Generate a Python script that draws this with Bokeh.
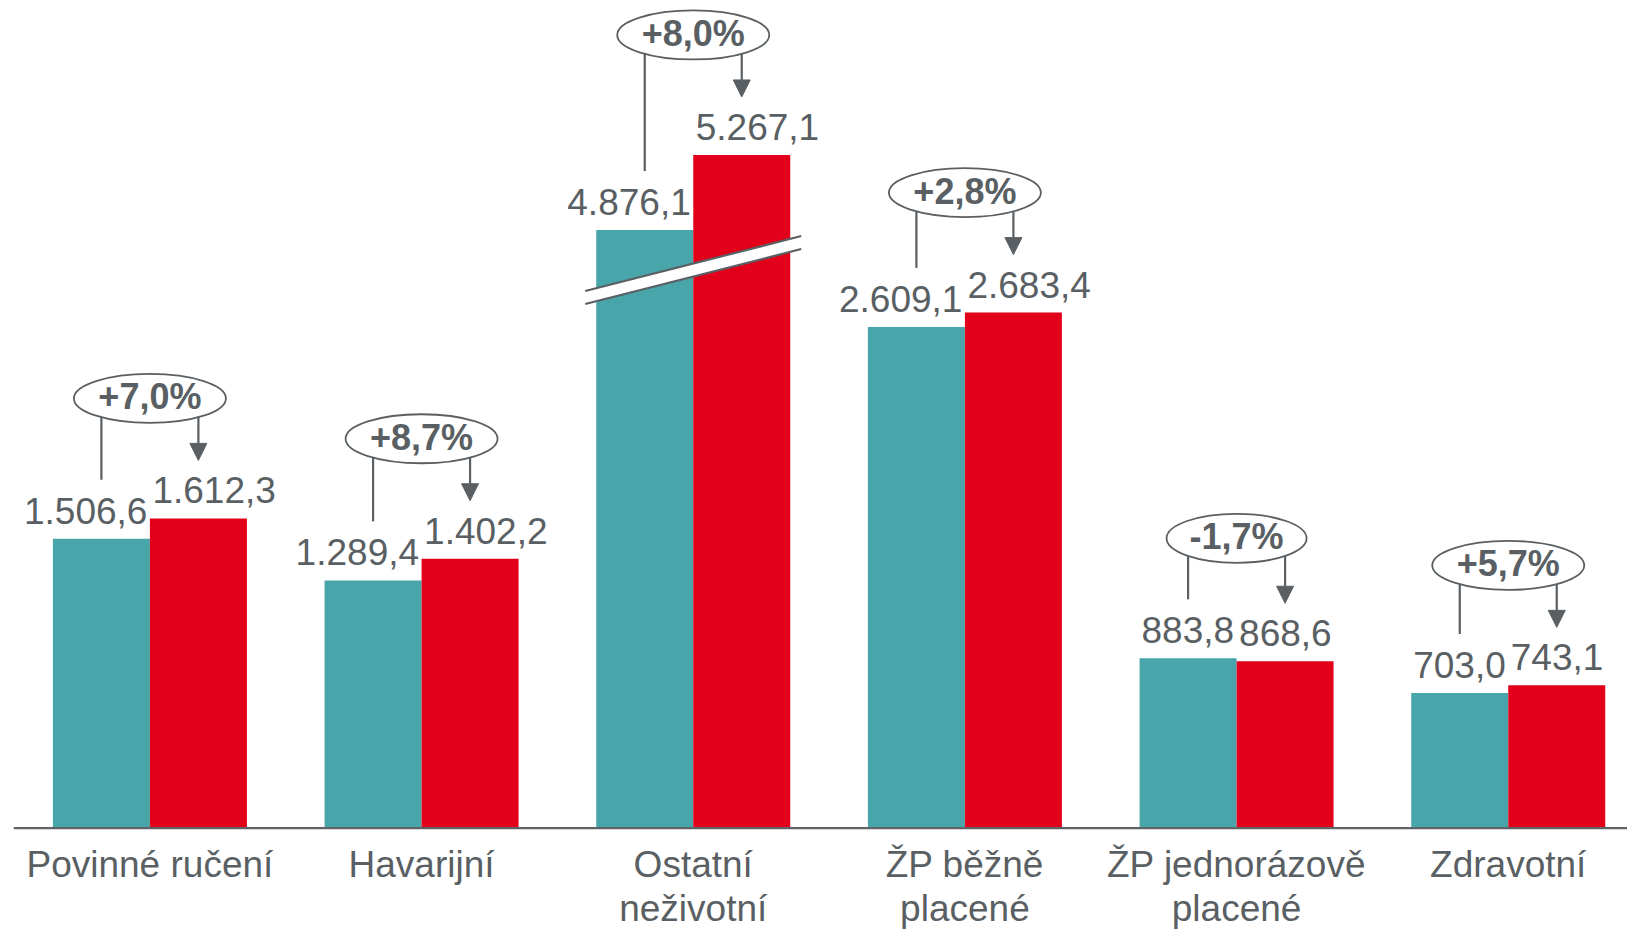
import numpy as np
from bokeh.plotting import figure
from bokeh.models import Range1d, Span
from bokeh.embed import file_html
from bokeh.resources import INLINE
from bokeh.core.properties import value

# ---------------- data ----------------
categories = ["Povinné ručení", "Havarijní", "Ostatní\nneživotní",
              "ŽP běžně\nplacené", "ŽP jednorázově\nplacené", "Zdravotní"]
prev_year = [1506.6, 1289.4, 4876.1, 2609.1, 883.8, 703.0]
curr_year = [1612.3, 1402.2, 5267.1, 2683.4, 868.6, 743.1]
change_labels = ["+7,0%", "+8,7%", "+8,0%", "+2,8%", "-1,7%", "+5,7%"]
broken = [False, False, True, False, False, False]   # axis break on this group
BREAK_CUT = 1763      # amount removed by the axis break
BREAK_AT = 2905       # display level where the break mark sits

# ---------------- style / layout ----------------
TEAL = "#48a6aa"
RED = "#e2001a"
GREY = "#595f63"
AXIS = "#5f6368"
FONT = "Liberation Sans"

W, H = 1627, 930
BORDER_L = 13
PX_X = 271.67          # px per category
PX_Y = 0.1921          # px per unit
FIRST_CENTER = 149.4 - BORDER_L
BASE_FROM_TOP = 827.6
TXT_FIX = 13           # renderer's baseline shift for 37px text

x0 = -FIRST_CENTER / PX_X
x1 = x0 + (W - BORDER_L) / PX_X
y1 = BASE_FROM_TOP / PX_Y
y0 = y1 - H / PX_Y


def fmt(v):
    s = f"{v:,.1f}"
    return s.replace(",", "#").replace(".", ",").replace("#", ".")


n = len(categories)
xs = np.arange(n, dtype=float)
bw = 97 / PX_X
disp_prev = [v - BREAK_CUT if b else v for v, b in zip(prev_year, broken)]
disp_curr = [v - BREAK_CUT if b else v for v, b in zip(curr_year, broken)]

p = figure(width=W, height=H, x_range=Range1d(x0, x1), y_range=Range1d(y0, y1),
           output_backend="svg", toolbar_location=None,
           x_axis_location=None, y_axis_location=None,
           min_border_left=BORDER_L, min_border_right=0,
           min_border_top=0, min_border_bottom=0)
p.outline_line_color = None
p.xgrid.visible = False
p.ygrid.visible = False
p.background_fill_color = "white"
p.border_fill_color = "white"

# bars
p.vbar(x=xs - bw / 2, top=disp_prev, bottom=0, width=bw, fill_color=TEAL, line_color=None)
p.vbar(x=xs + bw / 2, top=disp_curr, bottom=0, width=bw, fill_color=RED, line_color=None)

# baseline
p.add_layout(Span(location=0, dimension="width", line_color=AXIS, line_width=2.2))

# axis-break mark
for i, b in enumerate(broken):
    if not b:
        continue
    dx = 108 / PX_X
    ul = BREAK_AT - 21 / PX_Y
    ur = BREAK_AT + 34 / PX_Y
    ll = BREAK_AT - 34 / PX_Y
    lr = BREAK_AT + 21 / PX_Y
    p.patch([i - dx, i + dx, i + dx, i - dx], [ul, ur, lr, ll],
            fill_color="white", line_color=None)
    p.segment(x0=[i - dx, i - dx], y0=[ul, ll], x1=[i + dx, i + dx], y1=[ur, lr],
              line_color=GREY, line_width=2.2)

# value labels
gap = (15 + TXT_FIX) / PX_Y
p.text(x=xs - 2.5 / PX_X, y=[t + gap for t in disp_prev],
       text=[fmt(v) for v in prev_year], text_align="right", text_baseline="alphabetic",
       text_font=value(FONT), text_font_size="37px", text_color=GREY)
p.text(x=xs + 2.5 / PX_X, y=[t + gap for t in disp_curr],
       text=[fmt(v) for v in curr_year], text_align="left", text_baseline="alphabetic",
       text_font=value(FONT), text_font_size="37px", text_color=GREY)

# change annotations: connector lines, arrow heads, ellipses, text
lx, ly0, ly1 = [], [], []
heads_x, heads_y = [], []
ell_x, ell_y, ell_w = [], [], []
for i in range(n):
    tp, tc = disp_prev[i], disp_curr[i]
    cy = max(tp, tc) + 120 / PX_Y
    xl = i - bw / 2
    xr = i + bw / 2
    tip = tc + 58 / PX_Y
    base = tc + 75 / PX_Y
    lx += [xl, xr]
    ly0 += [cy, cy]
    ly1 += [tp + 59 / PX_Y, base]
    hw = 8.5 / PX_X
    heads_x.append([xr - hw, xr + hw, xr])
    heads_y.append([base, base, tip])
    ell_x.append(i)
    ell_y.append(cy)
    ell_w.append((140 if change_labels[i].startswith("-") else 152) / PX_X)

p.segment(x0=lx, y0=ly0, x1=lx, y1=ly1, line_color=GREY, line_width=2.2)
p.patches(heads_x, heads_y, fill_color=GREY, line_color=GREY, line_width=1)
p.ellipse(x=ell_x, y=ell_y, width=ell_w, height=49 / PX_Y,
          fill_color="white", line_color=GREY, line_width=1.8)
p.text(x=ell_x, y=[c + 1.5 / PX_Y for c in ell_y], text=change_labels,
       text_align="center", text_baseline="middle",
       text_font=value(FONT), text_font_size="36px", text_font_style="bold", text_color=GREY)

# category labels
line1 = [c.split("\n")[0] for c in categories]
line2 = [c.split("\n")[1] if "\n" in c else "" for c in categories]
p.text(x=xs, y=[-(877 - TXT_FIX - BASE_FROM_TOP) / PX_Y] * n, text=line1, text_align="center",
       text_baseline="alphabetic", text_font=value(FONT), text_font_size="37px", text_color=GREY)
p.text(x=xs, y=[-(921 - TXT_FIX - BASE_FROM_TOP) / PX_Y] * n, text=line2, text_align="center",
       text_baseline="alphabetic", text_font=value(FONT), text_font_size="37px", text_color=GREY)

open("out.html", "w").write(file_html(p, INLINE))
